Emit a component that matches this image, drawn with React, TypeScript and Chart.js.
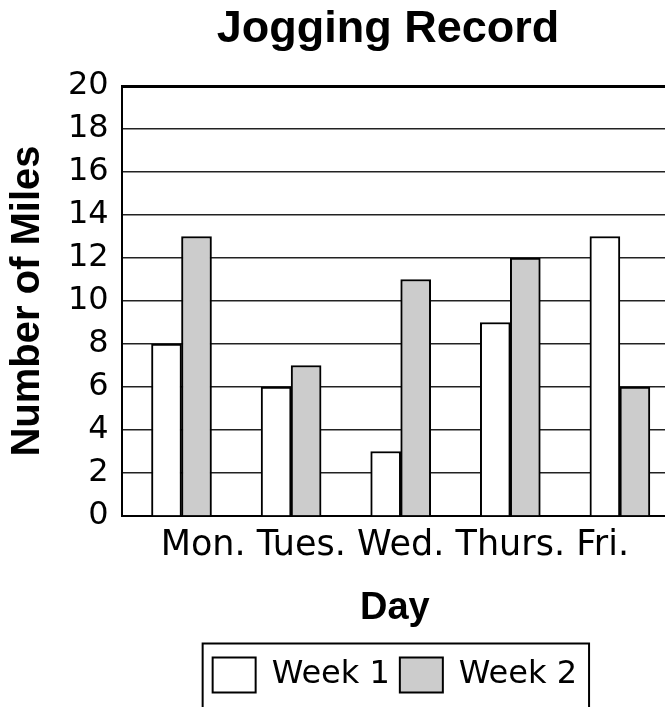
import React, { useEffect, useRef } from 'react';
import { Chart, registerables } from 'chart.js';

Chart.register(...registerables);

const chartTitle = 'Jogging Record';
const days = ['Mon.', 'Tues.', 'Wed.', 'Thurs.', 'Fri.'];
const week1 = [8, 6, 3, 9, 13];
const week2 = [13, 7, 11, 12, 6];
const seriesNames = ['Week 1', 'Week 2'];
const yAxisTitle = 'Number of Miles';
const xAxisTitle = 'Day';
const yMin = 0;
const yMax = 20;
const yStep = 2;

const W = 776;
const H = 724;
const PLOT_LEFT = 121.7;
const PLOT_RIGHT = 668;
const PX_PER_DAY = 109.6;
const FIRST_CENTER = 181.5;

const legendBorder = {
  id: 'legendBorder',
  afterDraw(chart: any) {
    const lg = chart.legend;
    const boxes = lg && lg.legendHitBoxes;
    if (!boxes || !boxes.length) return;
    const first = boxes[0];
    const last = boxes[boxes.length - 1];
    const ctx = chart.ctx;
    ctx.save();
    ctx.strokeStyle = '#000';
    ctx.lineWidth = 2;
    ctx.strokeRect(first.left - 10, lg.top - 4, last.left + last.width - first.left + 22, lg.height + 40);
    ctx.restore();
  },
};

export default function App() {
  const ref = useRef<HTMLCanvasElement>(null);

  useEffect(() => {
    if (!ref.current) return;
    const chart = new Chart(ref.current, {
      type: 'bar',
      data: {
        datasets: [
          {
            label: seriesNames[0],
            data: days.map((_, i) => ({ x: i, y: week1[i] })),
            backgroundColor: '#ffffff',
            borderColor: '#000000',
            borderWidth: 2,
            barThickness: 30,
          },
          {
            label: seriesNames[1],
            data: days.map((_, i) => ({ x: i, y: week2[i] })),
            backgroundColor: '#cccccc',
            borderColor: '#000000',
            borderWidth: 2,
            barThickness: 30,
          },
        ],
      },
      options: {
        responsive: false,
        animation: false,
        devicePixelRatio: 1,
        layout: { padding: { top: 0, left: 0, right: 0, bottom: 21.5 } },
        plugins: {
          title: {
            display: true,
            text: chartTitle,
            color: '#000',
            font: { family: 'Liberation Sans', size: 45, weight: 'bold', lineHeight: 1.2 },
            padding: { top: 2.5, bottom: 29.5 },
          },
          legend: {
            display: true,
            position: 'bottom',
            fullSize: false,
            labels: {
              color: '#000',
              boxWidth: 43,
              boxHeight: 35,
              padding: 10,
              font: { family: 'DejaVu Sans', size: 32 },
            },
          },
          tooltip: { enabled: false },
        },
        scales: {
          x: {
            type: 'linear',
            position: 'bottom',
            weight: 0,
            offset: false,
            min: -(FIRST_CENTER - PLOT_LEFT) / PX_PER_DAY,
            max: (PLOT_RIGHT - FIRST_CENTER) / PX_PER_DAY,
            grid: { display: false, offset: false },
            border: { display: true, color: '#000', width: 2 },
            ticks: { display: false },
            title: {
              display: true,
              text: days.join(' '),
              color: '#000',
              font: { family: 'DejaVu Sans', size: 35, lineHeight: 1.2 },
              padding: { top: 0, bottom: 0 },
            },
            afterFit: (s: any) => {
              s.height = 50.7;
            },
          },
          x2: {
            type: 'linear',
            position: 'bottom',
            weight: 1,
            display: true,
            offset: false,
            grid: { display: false },
            border: { display: false },
            ticks: { display: false },
            title: {
              display: true,
              text: xAxisTitle,
              color: '#000',
              font: { family: 'Liberation Sans', size: 38, weight: 'bold', lineHeight: 1.2 },
              padding: { top: 0, bottom: 16 },
            },
            afterFit: (s: any) => {
              s.height = 80.8;
            },
          },
          y: {
            type: 'linear',
            position: 'left',
            min: yMin,
            max: yMax,
            ticks: {
              stepSize: yStep,
              color: '#000',
              padding: 13,
              font: { family: 'DejaVu Sans', size: 32 },
            },
            grid: {
              drawTicks: false,
              color: (c: any) => (c.tick && c.tick.value === yMax ? '#000' : '#222'),
              lineWidth: (c: any) => (c.tick && c.tick.value === yMax ? 3 : 1.5),
            },
            border: { display: true, color: '#000', width: 2 },
            title: {
              display: true,
              text: yAxisTitle,
              color: '#000',
              font: { family: 'Liberation Sans', size: 40, weight: 'bold', lineHeight: 1.2 },
              padding: { top: 4, bottom: 0 },
            },
            afterFit: (s: any) => {
              s.width = PLOT_LEFT;
            },
          },
          yR: {
            type: 'linear',
            position: 'right',
            display: true,
            grid: { display: false },
            border: { display: false },
            ticks: { display: false },
            afterFit: (s: any) => {
              s.width = W - PLOT_RIGHT;
            },
          },
        },
      },
      plugins: [legendBorder],
    } as any);
    return () => chart.destroy();
  }, []);

  return (
    <div
      style={{
        position: 'fixed',
        left: 0,
        top: 0,
        width: 665,
        height: 707,
        overflow: 'hidden',
        background: '#fff',
      }}
    >
      <canvas ref={ref} width={W} height={H} style={{ display: 'block' }} />
    </div>
  );
}
